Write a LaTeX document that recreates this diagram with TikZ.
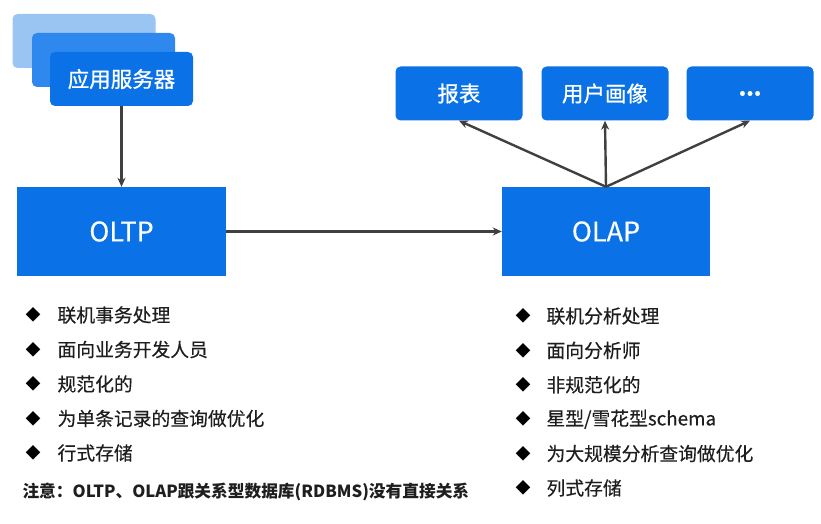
\documentclass[tikz,border=0pt]{standalone}
\usepackage{fontspec}
\setmainfont{Noto Sans CJK SC}
\newfontfamily\medfont[FakeBold=0.9]{Noto Sans CJK SC}
\newfontfamily\itemfont[FakeBold=0.35]{Noto Sans CJK SC}
\usepackage{tikz}
\usetikzlibrary{arrows.meta,positioning}
\definecolor{boxblue}{HTML}{0A72E6}
\definecolor{midblue}{HTML}{2F88EE}
\definecolor{paleblue}{HTML}{9AC5F3}
\definecolor{arrowgray}{HTML}{404040}
\definecolor{textdark}{HTML}{1E1E1E}

\begin{document}
\begin{tikzpicture}[x=1pt,y=-1pt,
  bluebox/.style={fill=boxblue,text=white,minimum width=127pt,minimum height=54pt,
    rounded corners=5pt,font=\medfont\fontsize{21.5}{24}\selectfont},
  bigbox/.style={fill=boxblue,text=white,minimum width=209pt,minimum height=89pt,
    font=\itemfont\fontsize{27}{30}\selectfont},
  link/.style={draw=arrowgray,line width=2.4pt,-{Stealth[length=9pt,width=8pt]}},
  bullet/.style={font=\fontsize{15}{18}\selectfont,text=black},
  item/.style={anchor=west,font=\itemfont\fontsize{18.8}{22}\selectfont,text=textdark}]
\useasboundingbox (0,0) rectangle (821,524);

% application server stack
\node[bluebox,fill=paleblue,minimum width=143pt] (back) at (84,41) {};
\node[bluebox,fill=midblue,minimum width=143pt] (middle) at (103.5,60) {};
\node[bluebox,minimum width=143pt] (appserver) at (121.5,79) {应用服务器};

% main systems
\node[bigbox] (oltp) at (121.5,231.5) {OLTP};
\node[bigbox,minimum width=208pt] (olap) at (606,231.5) {OLAP};

% consumers
\node[bluebox] (report) at (459,93.5) {报表};
\node[bluebox] (profile) at (605,93.5) {用户画像};
\node[bluebox] (more) at (750,93.5) {\textbf{...}};

\draw[link] (appserver) -- (oltp);
\draw[link] (oltp) -- (olap);
\draw[link] (olap.north) -- (report.south);
\draw[link] (olap.north) -- (profile.south);
\draw[link] (olap.north) -- (more.south);

% OLTP features
\foreach \i/\txt in {0/联机事务处理,1/面向业务开发人员,2/规范化的,3/为单条记录的查询做优化,4/行式存储}
{
  \node[bullet] (ld\i) at (33,315+\i*34.5) {◆};
  \node[item] (lt\i) at (54,315+\i*34.5) {\txt};
}
% OLAP features
\foreach \i/\txt in {0/联机分析处理,1/面向分析师,2/非规范化的,3/{星型/雪花型schema},4/为大规模分析查询做优化,5/列式存储}
{
  \node[bullet] (rd\i) at (523,316+\i*34.4) {◆};
  \node[item] (rt\i) at (543,316+\i*34.4) {\txt};
}

% note
\node[anchor=west,font=\fontsize{16.7}{19}\selectfont\bfseries,text=textdark] (note)
  at (19,492) {注意：OLTP、OLAP跟关系型数据库(RDBMS)没有直接关系};
\end{tikzpicture}
\end{document}
